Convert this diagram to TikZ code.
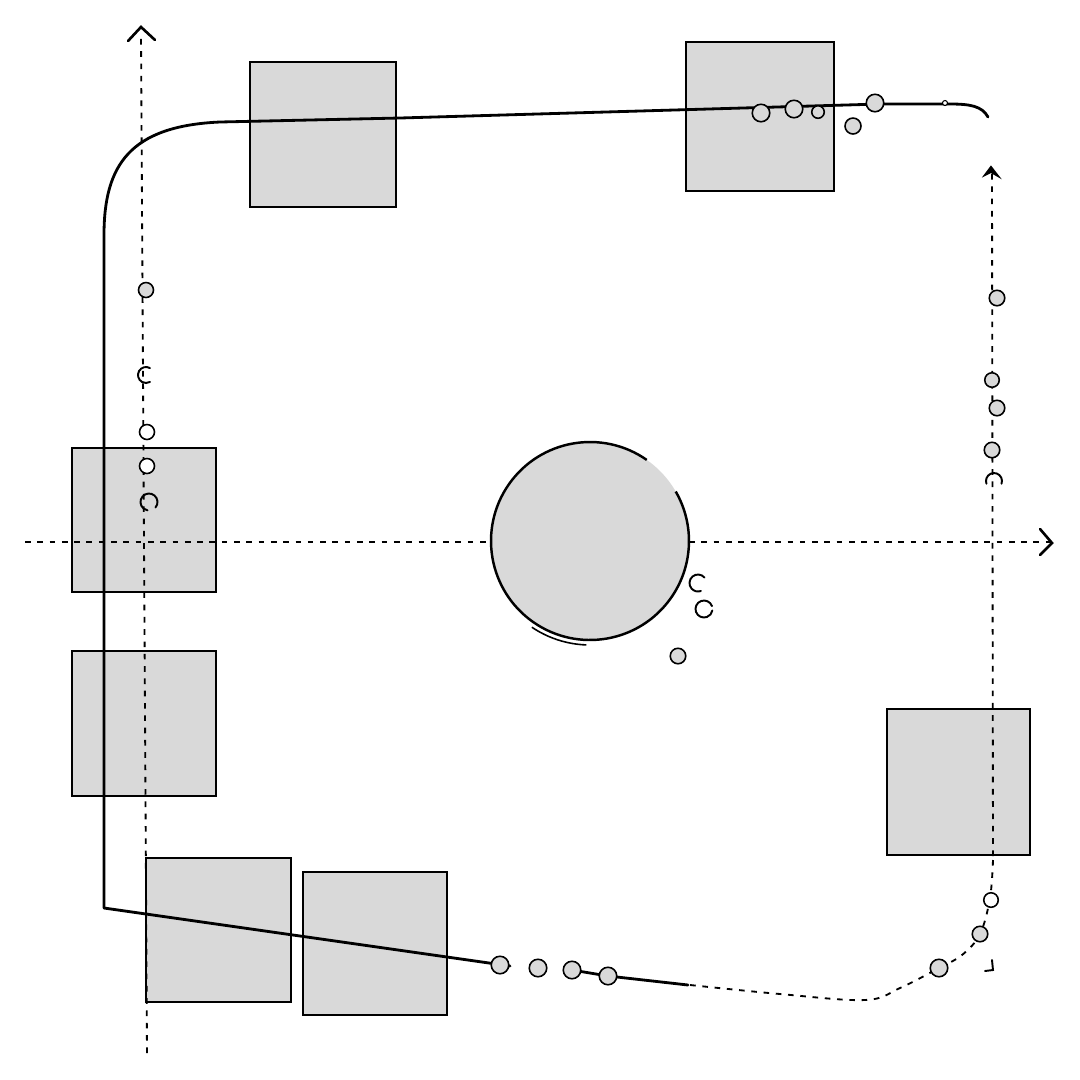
\documentclass[tikz,border=0pt]{standalone}
\usetikzlibrary{arrows.meta}
\begin{document}
\begin{tikzpicture}[x=0.02cm,y=-0.02cm]
\definecolor{boxgray}{HTML}{D9D9D9}
\tikzset{
  block/.style={draw=black, line width=0.9pt, fill=boxgray, rectangle, inner sep=0pt, outer sep=0pt},
  dot/.style={circle, draw=black, line width=0.9pt, fill=boxgray, minimum size=0.35cm, inner sep=0pt},
  wdot/.style={dot, fill=white},
  smalldot/.style={dot, minimum size=0.25cm},
  axis/.style={line width=1.05pt, dash pattern=on 3.2pt off 3.8pt},
  route/.style={line width=1.6pt, line cap=round, line join=round},
  chev/.style={line width=1.5pt, line cap=round, line join=miter},
  openarc/.style={line width=1.1pt, line cap=round},
}
\fill[white] (0,0) rectangle (1080,1080);
\useasboundingbox (0,0) rectangle (1080,1080);

% boxes
\node[block, minimum width=2.92cm, minimum height=2.90cm] (b1) at (323,134.5) {};
\node[block, minimum width=2.96cm, minimum height=2.98cm] (b2) at (760,116.5) {};
\node[block, minimum width=2.88cm, minimum height=2.88cm] (b3) at (144,520) {};
\node[block, minimum width=2.88cm, minimum height=2.90cm] (b4) at (144,723.5) {};
\node[block, minimum width=2.90cm, minimum height=2.88cm] (b5) at (218.5,930) {};
\node[block, minimum width=2.88cm, minimum height=2.86cm] (b6) at (375,943.5) {};
\node[block, minimum width=2.86cm, minimum height=2.92cm] (b7) at (958.5,782) {};

% axes
\coordinate (hL) at (25,542);
\coordinate (hR) at (1050,542);
\coordinate (vB) at (147,1053);
\coordinate (vT) at (141,34);
\coordinate (rT) at (992,174);
\coordinate (rB) at (993,860);
\draw[axis] (hL) -- (hR);
\draw[chev] (1040,529) -- (1052,543) -- (1040,555);
\draw[axis] (vB) -- (vT);
\draw[chev] (128,41) -- (141,27) -- (155,40);
\draw[axis] (rT) -- (rB);
\draw[chev, line width=1.1pt, fill=black] (985,175) -- (991,167) -- (998,176) -- (991,172) -- cycle;
\draw[axis] plot[smooth, tension=0.6] coordinates {(993,860) (990,898) (980,934) (962,955) (939,968) (900,988) (865,1000) (780,994) (690,985)};

% central circle
\node[circle, fill=boxgray, minimum size=3.96cm, inner sep=0pt, outer sep=0pt] (hub) at (590,541) {};
\draw[line width=1.4pt] (hub.55) arc[start angle=55, end angle=390, radius=1.98cm];
\draw[line width=0.9pt] (hub.center) ++(236:2.08cm) arc[start angle=236, end angle=268, radius=2.08cm];

% route
\coordinate (r0) at (988,117);
\coordinate (r1) at (104,908);
\coordinate (r2) at (510,966);
\coordinate (r3) at (572,970);
\coordinate (r4) at (688,985);
\draw[route] (r0) .. controls (982,106) and (970,104) .. (950,104) -- (880,104) -- (400,118) -- (220,122)
  .. controls (130,126) and (104,165) .. (104,235) -- (r1) -- (r2);
\draw[route] (r3) -- (608,976) -- (r4);

% dots top
\node[dot] (t1) at (761,113) {};
\node[dot] (t2) at (794,109) {};
\node[smalldot] (t3) at (818,112) {};
\node[dot] (t4) at (875,103) {};
\node[dot, minimum size=0.32cm] (t5) at (853,126) {};
\node[circle, draw=black, line width=0.6pt, fill=white, minimum size=0.1cm, inner sep=0pt] (t6) at (945,103) {};

% dots left
\node[dot, minimum size=0.3cm] (l1) at (146,290) {};
\coordinate (l2) at (146,375);
\draw[openarc] (l2) ++(60:0.16cm) arc[start angle=60, end angle=300, radius=0.16cm];
\node[wdot, minimum size=0.3cm] (l3) at (147,432) {};
\node[wdot, minimum size=0.3cm] (l4) at (147,466) {};
\coordinate (l5) at (149,502);
\draw[openarc] (l5) ++(-40:0.17cm) arc[start angle=-40, end angle=260, radius=0.17cm];

% dots right
\node[dot, minimum size=0.31cm] (q1) at (997,298) {};
\node[dot, minimum size=0.29cm] (q2) at (992,380) {};
\node[dot, minimum size=0.31cm] (q3) at (997,408) {};
\node[dot, minimum size=0.31cm] (q4) at (992,450) {};
\coordinate (q5) at (994,481);
\draw[openarc] (q5) ++(-20:0.16cm) arc[start angle=-20, end angle=200, radius=0.16cm];

% near hub
\coordinate (c1) at (698,583);
\draw[openarc] (c1) ++(40:0.17cm) arc[start angle=40, end angle=290, radius=0.17cm];
\coordinate (c2) at (704,609);
\draw[openarc] (c2) ++(20:0.17cm) arc[start angle=20, end angle=350, radius=0.17cm];
\node[dot, minimum size=0.31cm] (c3) at (678,656) {};

% bottom dots
\node[dot] (d1) at (500,965) {};
\node[dot] (d2) at (538,968) {};
\node[dot] (d3) at (572,970) {};
\node[dot] (d4) at (608,976) {};

% bottom right dots
\node[wdot, minimum size=0.29cm] (e1) at (991,900) {};
\node[dot, minimum size=0.31cm] (e2) at (980,934) {};
\node[dot] (e3) at (939,968) {};
\coordinate (e4) at (992,960);
\draw[openarc] (e4) -- (993,970) -- (985,971);
\end{tikzpicture}
\end{document}
